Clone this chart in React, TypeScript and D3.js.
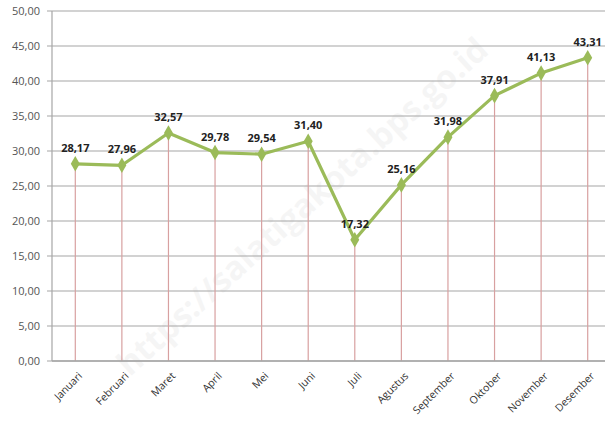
import { useEffect, useRef } from 'react'
import * as d3 from 'd3'

const MONTHS = [
  'Januari', 'Februari', 'Maret', 'April', 'Mei', 'Juni',
  'Juli', 'Agustus', 'September', 'Oktober', 'November', 'Desember',
]
const VALUES = [28.17, 27.96, 32.57, 29.78, 29.54, 31.4, 17.32, 25.16, 31.98, 37.91, 41.13, 43.31]
const Y_TICKS = [0, 5, 10, 15, 20, 25, 30, 35, 40, 45, 50]

const WIDTH = 605
const HEIGHT = 426
const MARGIN = { top: 11, right: -6, bottom: 65, left: 52 }
const FONT = '"Open Sans", "Liberation Sans", sans-serif'
const fmt = (v: number) => v.toFixed(2).replace('.', ',')

function App() {
  const ref = useRef<SVGSVGElement>(null)

  useEffect(() => {
    const svg = d3.select(ref.current)
    svg.selectAll('*').remove()

    const innerW = WIDTH - MARGIN.left - MARGIN.right
    const innerH = HEIGHT - MARGIN.top - MARGIN.bottom

    const x = d3.scalePoint<string>().domain(MONTHS).range([0, innerW]).padding(0.5)
    const y = d3.scaleLinear().domain([0, 50]).range([innerH, 0])

    // faint watermark
    svg.append('text')
      .attr('transform', `translate(310,215) rotate(-42)`)
      .attr('text-anchor', 'middle')
      .attr('font-family', FONT)
      .attr('font-weight', 'bold')
      .attr('font-size', 33)
      .attr('fill', '#000')
      .attr('opacity', 0.035)
      .text('https://salatigakota.bps.go.id')

    const g = svg.append('g').attr('transform', `translate(${MARGIN.left},${MARGIN.top})`)

    // gridlines
    g.append('g')
      .selectAll('line')
      .data(Y_TICKS)
      .join('line')
      .attr('x1', -5)
      .attr('x2', innerW)
      .attr('y1', (d) => y(d))
      .attr('y2', (d) => y(d))
      .attr('stroke', '#a6a6a6')
      .attr('stroke-width', 1.2)

    // y axis line
    g.append('line')
      .attr('x1', 0).attr('x2', 0)
      .attr('y1', 0).attr('y2', innerH)
      .attr('stroke', '#a6a6a6')
      .attr('stroke-width', 1.2)

    g.append('g')
      .selectAll('text')
      .data(Y_TICKS)
      .join('text')
      .attr('x', -12)
      .attr('y', (d) => y(d))
      .attr('dy', '0.35em')
      .attr('text-anchor', 'end')
      .attr('font-family', FONT)
      .attr('font-size', 11)
      .attr('fill', '#555')
      .text((d) => fmt(d))

    // drop lines
    g.append('g')
      .selectAll('line')
      .data(VALUES)
      .join('line')
      .attr('x1', (_, i) => x(MONTHS[i]) ?? 0)
      .attr('x2', (_, i) => x(MONTHS[i]) ?? 0)
      .attr('y1', (d) => y(d))
      .attr('y2', innerH)
      .attr('stroke', '#d8a0a0')
      .attr('stroke-width', 1.2)

    // bottom axis line on top of drop lines
    g.append('line')
      .attr('x1', 0).attr('x2', innerW)
      .attr('y1', innerH).attr('y2', innerH)
      .attr('stroke', '#a6a6a6')
      .attr('stroke-width', 1.5)

    // series line
    const line = d3.line<number>()
      .x((_, i) => x(MONTHS[i]) ?? 0)
      .y((d) => y(d))
    g.append('path')
      .datum(VALUES)
      .attr('d', line)
      .attr('fill', 'none')
      .attr('stroke', '#9bbb59')
      .attr('stroke-width', 3.2)
      .attr('stroke-linejoin', 'round')

    const diamond = d3.symbol(d3.symbolDiamond, 70)
    g.append('g')
      .selectAll('path')
      .data(VALUES)
      .join('path')
      .attr('transform', (d, i) => `translate(${x(MONTHS[i]) ?? 0},${y(d)})`)
      .attr('d', diamond)
      .attr('fill', '#9bbb59')

    // value labels
    g.append('g')
      .selectAll('text')
      .data(VALUES)
      .join('text')
      .attr('x', (_, i) => x(MONTHS[i]) ?? 0)
      .attr('y', (d) => y(d) - 12)
      .attr('text-anchor', 'middle')
      .attr('font-family', FONT)
      .attr('font-weight', 'bold')
      .attr('font-size', 11)
      .attr('fill', '#222')
      .text((d) => fmt(d))

    // x labels
    g.append('g')
      .selectAll('text')
      .data(MONTHS)
      .join('text')
      .attr('transform', (d) => `translate(${(x(d) ?? 0) + 5},${innerH + 13}) rotate(-45)`)
      .attr('text-anchor', 'end')
      .attr('dy', '0.35em')
      .attr('font-family', FONT)
      .attr('font-size', 10.5)
      .attr('fill', '#333')
      .text((d) => d)
  }, [])

  return (
    <svg
      ref={ref}
      width={WIDTH}
      height={HEIGHT}
      style={{ position: 'absolute', left: 0, top: 0, background: '#fff' }}
    />
  )
}

export default App
